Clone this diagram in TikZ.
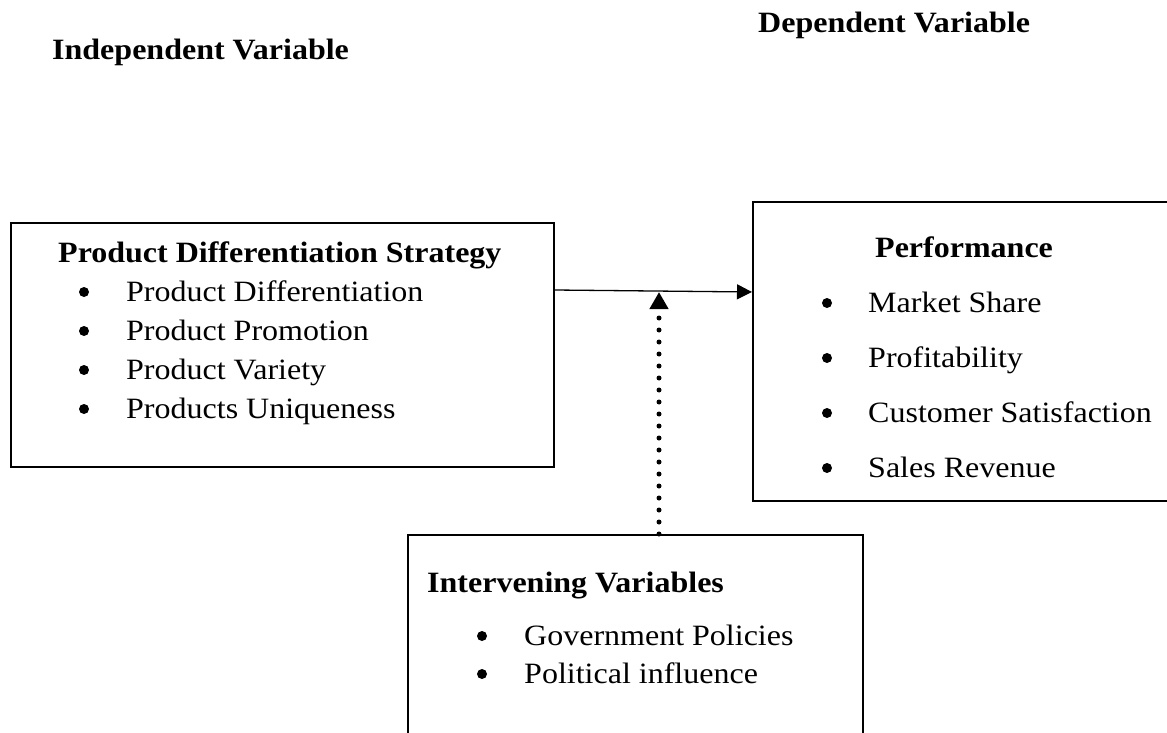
\documentclass[tikz,border=0pt]{standalone}
\usepackage{fontspec}
\setmainfont[FakeStretch=1.085]{Liberation Serif}
\usetikzlibrary{arrows.meta}
\begin{document}
\begin{tikzpicture}[x=1pt,y=-1pt,
  frame/.style={draw,line width=1.8pt,inner sep=0pt,anchor=north west},
  txt/.style={anchor=base west,inner sep=0pt,font=\fontsize{29.5}{35}\selectfont},
  head/.style={anchor=base west,inner sep=0pt,font=\fontsize{29.5}{35}\selectfont\bfseries},
  bul/.style={circle,fill,inner sep=0pt,minimum size=10pt},
  link/.style={line width=1.3pt,-{Triangle[length=15pt,width=15pt]}},
  moderator/.style={line width=5pt,line cap=round,dash pattern=on 0pt off 12pt,
    -{Triangle[length=17pt,width=18pt]}}]
\useasboundingbox (0,0) rectangle (1167,733);
\clip (0,0) rectangle (1167,733);

% column headings
\node[head] (indep) at (52,60) {Independent Variable};
\node[head] (dep) at (758,33) {Dependent Variable};

% independent variable box
\node[frame,minimum width=543pt,minimum height=244pt] (pds) at (10,222) {};
\node[head] (pdsT) at (58,262) {Product Differentiation Strategy};
\node[bul] (b1) at (84,292) {};
\node[txt] (p1) at (126,301) {Product Differentiation};
\node[bul] (b2) at (84,331) {};
\node[txt] (p2) at (126,340) {Product Promotion};
\node[bul] (b3) at (84,370) {};
\node[txt] (p3) at (126,379) {Product Variety};
\node[bul] (b4) at (84,409) {};
\node[txt] (p4) at (126,418) {Products Uniqueness};

% dependent variable box (runs past the right edge)
\node[frame,minimum width=440pt,minimum height=299pt] (perf) at (752,201) {};
\node[head] (perfT) at (875,257) {Performance};
\node[bul] (c1) at (827,303) {};
\node[txt] (q1) at (868,312) {Market Share};
\node[bul] (c2) at (827,358) {};
\node[txt] (q2) at (868,367) {Profitability};
\node[bul] (c3) at (827,413) {};
\node[txt] (q3) at (868,422) {Customer Satisfaction};
\node[bul] (c4) at (827,468) {};
\node[txt] (q4) at (868,477) {Sales Revenue};

% intervening variables box (runs past the bottom edge)
\node[frame,minimum width=455pt,minimum height=230pt] (interv) at (407,534) {};
\node[head] (intT) at (427,592) {Intervening Variables};
\node[bul] (d1) at (482,636) {};
\node[txt] (r1) at (524,645) {Government Policies};
\node[bul] (d2) at (482,674) {};
\node[txt] (r2) at (524,683) {Political influence};

% connectors
\coordinate (meet) at (659,292);
\draw[link] (pds.east |- 0,290) -- (perf.west |- 0,292);
\draw[moderator] (interv.north -| meet) -- (meet);
\end{tikzpicture}
\end{document}
